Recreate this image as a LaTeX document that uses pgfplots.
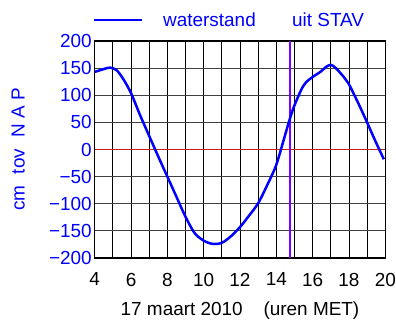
\documentclass[border=0pt]{standalone}
\usepackage{pgfplots}
\pgfplotsset{compat=1.18}
\usepackage{fontspec}
\setmainfont{Liberation Sans}
\definecolor{wblue}{RGB}{0,0,255}
\definecolor{stav}{RGB}{128,0,255}
\definecolor{zred}{RGB}{200,30,30}
\begin{document}
\begin{tikzpicture}
\path[use as bounding box] (-94.7bp,-62bp) rectangle (301.3bp,258bp);
\begin{axis}[
  at={(0,0)}, anchor=south west,
  scale only axis, width=290.6bp, height=217bp,
  xmin=4, xmax=20, ymin=-200, ymax=200,
  xtick={4,6,...,20}, minor xtick={5,7,...,19},
  ytick={-200,-150,-100,-50,0,50,100,150,200},
  yticklabels={−200,−150,−100,−50,0,50,100,150,200},
  major tick length=0pt, minor tick length=0pt,
  grid=both,
  major grid style={black, line width=0.9bp},
  minor grid style={black, line width=0.9bp},
  ymajorgrids=false,
  axis line style={black, line width=1.2bp},
  tick label style={font=\fontsize{19}{22}\selectfont},
  /pgf/number format/assume math mode=true,
  yticklabel style={text=wblue, xshift=0.5bp},
  xticklabel style={yshift=-11.4bp},
  xlabel={17 maart 2010\hspace{1.1em}(uren MET)},
  xlabel style={font=\fontsize{19}{22}\selectfont, at={(axis description cs:0.5,0)}, anchor=base, yshift=-57.7bp},
  clip=false,
]
% horizontal grid lines
\foreach \v in {-150,-100,-50,50,100,150} {
  \edef\tmp{\noexpand\addplot[gray!50!black, line width=0.9bp, forget plot] coordinates {(4,\v) (20,\v)};}
  \tmp
}
\addplot[zred, line width=1.1bp] coordinates {(4,0) (20,0)};
\addplot[stav, line width=2.2bp] coordinates {(14.77,-200) (14.77,200)};
\addplot[wblue, line width=2.5bp, smooth, tension=0.5] coordinates {
(4.0,143) (4.48,148) (4.85,151) (5.21,146) (5.57,130) (6.0,104) (6.49,64)
(7.0,25) (7.5,-13) (8.0,-50) (8.5,-87) (9.0,-124) (9.5,-154) (10.0,-168)
(10.5,-174) (11.0,-172) (11.5,-160) (12.0,-143) (12.45,-124) (13.0,-99)
(13.55,-62) (14.0,-28) (14.46,24) (14.73,55) (14.97,79) (15.37,110)
(15.64,124) (15.97,133) (16.46,144) (16.73,152) (17.0,156) (17.28,150)
(17.73,133) (17.97,122) (18.46,89) (18.97,52) (19.46,15) (19.92,-18)
};
\end{axis}
\node[rotate=90, inner sep=0pt, text=wblue, font=\fontsize{19}{22}\selectfont] at (-76.5bp,108.5bp) {cm\hspace{0.6em}tov\hspace{0.6em}N A P};
\draw[wblue, line width=2.5bp] (-0.7bp,238bp) -- (47.3bp,238bp);
\node[anchor=base west, inner sep=0pt, text=wblue, font=\fontsize{19}{22}\selectfont] at (68.3bp,231bp) {waterstand};
\node[anchor=base west, inner sep=0pt, text=wblue, font=\fontsize{19}{22}\selectfont] at (197.3bp,231bp) {uit STAV};
\end{tikzpicture}
\end{document}
